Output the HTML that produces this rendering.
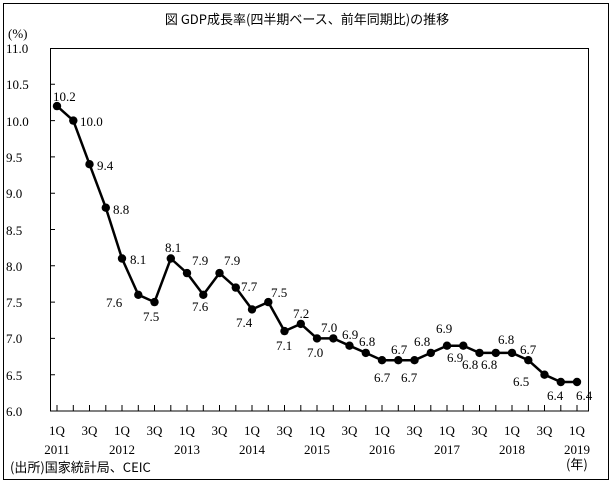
<!DOCTYPE html>
<html><head><meta charset="utf-8"><style>
body{margin:0;background:#fff;}
svg text{font-family:"Liberation Serif","Noto Serif CJK SC","Noto Sans CJK JP",serif;font-size:13px;fill:#000;}
</style></head><body>
<svg width="615" height="484" xmlns="http://www.w3.org/2000/svg">
<rect x="3.5" y="3.5" width="605" height="476" fill="none" stroke="#000" stroke-width="1"/>
<text x="307" y="24" text-anchor="middle" style="font-family:'Noto Sans CJK JP',sans-serif;font-size:13px">図 GDP成長率(四半期ベース、前年同期比)の推移</text>
<text x="8" y="38">(%)</text>
<rect x="50.5" y="48.5" width="538" height="362.5" fill="none" stroke="#000"/>
<g>
<text x="6" y="416">6.0</text><text x="6" y="380">6.5</text><text x="6" y="343">7.0</text><text x="6" y="307">7.5</text><text x="6" y="271">8.0</text><text x="6" y="235">8.5</text><text x="6" y="198">9.0</text><text x="6" y="162">9.5</text><text x="6" y="126">10.0</text><text x="6" y="89">10.5</text><text x="6" y="53">11.0</text>
</g>
<path d="M50 374.7h5M50 338.4h5M50 302.1h5M50 265.8h5M50 229.5h5M50 193.2h5M50 156.9h5M50 120.6h5M50 84.3h5" stroke="#000"/>
<path d="M57 411v-6M73.3 411v-6M89.5 411v-6M105.8 411v-6M122 411v-6M138.3 411v-6M154.5 411v-6M170.8 411v-6M187 411v-6M203.3 411v-6M219.5 411v-6M235.8 411v-6M252 411v-6M268.3 411v-6M284.5 411v-6M300.8 411v-6M317 411v-6M333.3 411v-6M349.5 411v-6M365.8 411v-6M382 411v-6M398.3 411v-6M414.5 411v-6M430.8 411v-6M447 411v-6M463.3 411v-6M479.5 411v-6M495.8 411v-6M512 411v-6M528.3 411v-6M544.5 411v-6M560.8 411v-6M577 411v-6" stroke="#000"/>
<path d="M57 106.1L73.3 120.6L89.5 164.2L105.8 207.7L122 258.5L138.3 294.8L154.5 302.1L170.8 258.5L187 273.1L203.3 294.8L219.5 273.1L235.8 287.6L252 309.4L268.3 302.1L284.5 331.1L300.8 323.9L317 338.4L333.3 338.4L349.5 345.7L365.8 352.9L382 360.2L398.3 360.2L414.5 360.2L430.8 352.9L447 345.7L463.3 345.7L479.5 352.9L495.8 352.9L512 352.9L528.3 360.2L544.5 374.7L560.8 382L577 382" fill="none" stroke="#000" stroke-width="2.5"/>
<g fill="#000">
<circle cx="57" cy="106.1" r="4.2"/><circle cx="73.3" cy="120.6" r="4.2"/><circle cx="89.5" cy="164.2" r="4.2"/><circle cx="105.8" cy="207.7" r="4.2"/><circle cx="122" cy="258.5" r="4.2"/><circle cx="138.3" cy="294.8" r="4.2"/><circle cx="154.5" cy="302.1" r="4.2"/><circle cx="170.8" cy="258.5" r="4.2"/><circle cx="187" cy="273.1" r="4.2"/><circle cx="203.3" cy="294.8" r="4.2"/><circle cx="219.5" cy="273.1" r="4.2"/><circle cx="235.8" cy="287.6" r="4.2"/><circle cx="252" cy="309.4" r="4.2"/><circle cx="268.3" cy="302.1" r="4.2"/><circle cx="284.5" cy="331.1" r="4.2"/><circle cx="300.8" cy="323.9" r="4.2"/><circle cx="317" cy="338.4" r="4.2"/><circle cx="333.3" cy="338.4" r="4.2"/><circle cx="349.5" cy="345.7" r="4.2"/><circle cx="365.8" cy="352.9" r="4.2"/><circle cx="382" cy="360.2" r="4.2"/><circle cx="398.3" cy="360.2" r="4.2"/><circle cx="414.5" cy="360.2" r="4.2"/><circle cx="430.8" cy="352.9" r="4.2"/><circle cx="447" cy="345.7" r="4.2"/><circle cx="463.3" cy="345.7" r="4.2"/><circle cx="479.5" cy="352.9" r="4.2"/><circle cx="495.8" cy="352.9" r="4.2"/><circle cx="512" cy="352.9" r="4.2"/><circle cx="528.3" cy="360.2" r="4.2"/><circle cx="544.5" cy="374.7" r="4.2"/><circle cx="560.8" cy="382" r="4.2"/><circle cx="577" cy="382" r="4.2"/>
</g>
<g>
<text x="53" y="101">10.2</text><text x="80" y="126">10.0</text><text x="97" y="170">9.4</text><text x="113" y="214">8.8</text><text x="130" y="264">8.1</text><text x="106" y="307">7.6</text><text x="143" y="321">7.5</text><text x="165" y="252">8.1</text><text x="192" y="265">7.9</text><text x="192" y="311">7.6</text><text x="224" y="265">7.9</text><text x="241" y="291">7.7</text><text x="236" y="327">7.4</text><text x="271" y="297">7.5</text><text x="276" y="350">7.1</text><text x="293" y="318">7.2</text><text x="307" y="357">7.0</text><text x="321" y="332">7.0</text><text x="342" y="339">6.9</text><text x="359" y="346">6.8</text><text x="374" y="382">6.7</text><text x="391" y="354">6.7</text><text x="401" y="382">6.7</text><text x="414" y="346">6.8</text><text x="436" y="333">6.9</text><text x="447" y="362">6.9</text><text x="462" y="369">6.8</text><text x="481" y="369">6.8</text><text x="498" y="344">6.8</text><text x="520" y="354">6.7</text><text x="513" y="386">6.5</text><text x="547" y="400">6.4</text><text x="576" y="400">6.4</text>
</g>
<g text-anchor="middle">
<text x="57" y="435">1Q</text><text x="89.5" y="435">3Q</text><text x="122" y="435">1Q</text><text x="154.5" y="435">3Q</text><text x="187" y="435">1Q</text><text x="219.5" y="435">3Q</text><text x="252" y="435">1Q</text><text x="284.5" y="435">3Q</text><text x="317" y="435">1Q</text><text x="349.5" y="435">3Q</text><text x="382" y="435">1Q</text><text x="414.5" y="435">3Q</text><text x="447" y="435">1Q</text><text x="479.5" y="435">3Q</text><text x="512" y="435">1Q</text><text x="544.5" y="435">3Q</text><text x="577" y="435">1Q</text>
<text x="57" y="454">2011</text><text x="122" y="454">2012</text><text x="187" y="454">2013</text><text x="252" y="454">2014</text><text x="317" y="454">2015</text><text x="382" y="454">2016</text><text x="447" y="454">2017</text><text x="512" y="454">2018</text><text x="577" y="454">2019</text>
</g>
<text x="10" y="472" style="font-family:'Noto Sans CJK JP',sans-serif;font-size:13px">(出所)国家統計局、CEIC</text>
<text x="566" y="469" style="font-family:'Noto Sans CJK JP',sans-serif;font-size:13px">(年)</text>
</svg>
</body></html>
